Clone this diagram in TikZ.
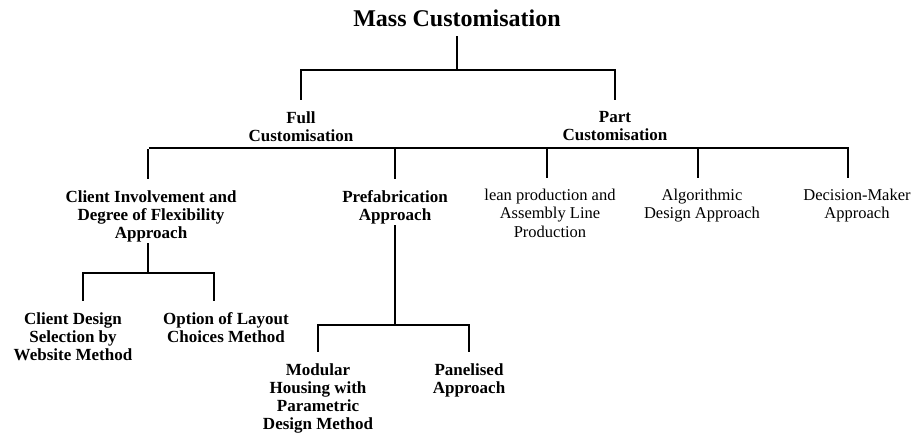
\documentclass[tikz,border=0pt]{standalone}
\usepackage{fontspec}
\setmainfont{Liberation Serif}
\usetikzlibrary{positioning}

\begin{document}
\begin{tikzpicture}[x=1pt,y=-1pt,line cap=rect]
\tikzstyle{head}=[font=\fontsize{24}{28}\selectfont\bfseries,inner sep=0pt,anchor=north]
\tikzstyle{bold_box}=[align=center,font=\fontsize{17}{18}\selectfont\bfseries,inner sep=0pt,anchor=north]
\tikzstyle{plain_box}=[align=center,font=\fontsize{16.5}{18.3}\selectfont,inner sep=0pt,anchor=north]
\tikzstyle{link}=[draw=black,line width=1.8pt,shorten >=12pt,shorten <=2pt]

\useasboundingbox (0,0) rectangle (919,432);

% levels 1 and 2
\node[head] (mass) at (457,10) {Mass Customisation};
\node[bold_box] (full) at (301,111.5) {Full\\Customisation};
\node[bold_box] (part) at (615,111.5) {Part\\Customisation};

% level 3
\node[bold_box] (client_inv) at (151,190) {Client Involvement and\\Degree of Flexibility\\Approach};
\node[bold_box] (prefab) at (395,190) {Prefabrication\\Approach};
\node[plain_box] (lean) at (550,189) {lean production and\\Assembly Line\\Production};
\node[plain_box] (algo) at (702,189) {Algorithmic\\Design Approach};
\node[plain_box] (decision) at (857,189) {Decision-Maker\\Approach};

% level 4
\node[bold_box] (client_design) at (73,312) {Client Design\\Selection by\\Website Method};
\node[bold_box] (layout) at (226,312) {Option of Layout\\Choices Method};
\node[bold_box] (modular) at (318,363) {Modular\\Housing with\\Parametric\\Design Method};
\node[bold_box] (panel) at (469,363) {Panelised\\Approach};

% junctions
\coordinate (j_mass) at (457,70);
\coordinate (j_mid) at (0,148);
\coordinate (j_client) at (148,273);
\coordinate (j_prefab) at (395,325);

\draw[link,shorten <=10pt] (mass.south) -- (j_mass) -| (full.north);
\draw[link,shorten <=10pt] (mass.south) -- (j_mass) -| (part.north);

\draw[link] ([xshift=-3pt]client_inv.north |- j_mid) -| ([xshift=-9pt]decision.north);
\draw[link] ([xshift=-3pt]client_inv.north |- j_mid) -- ([xshift=-3pt]client_inv.north);
\draw[link] (prefab.north |- j_mid) -- (prefab.north);
\draw[link] ([xshift=-3pt]lean.north |- j_mid) -- ([xshift=-3pt]lean.north);
\draw[link] ([xshift=-4pt]algo.north |- j_mid) -- ([xshift=-4pt]algo.north);

\draw[link] ([xshift=-3pt]client_inv.south) -- (j_client) -| ([xshift=10pt]client_design.north);
\draw[link] ([xshift=-3pt]client_inv.south) -- (j_client) -| ([xshift=-12pt]layout.north);

\draw[link] (prefab.south) -- (j_prefab) -| (modular.north);
\draw[link] (prefab.south) -- (j_prefab) -| (panel.north);
\end{tikzpicture}
\end{document}
